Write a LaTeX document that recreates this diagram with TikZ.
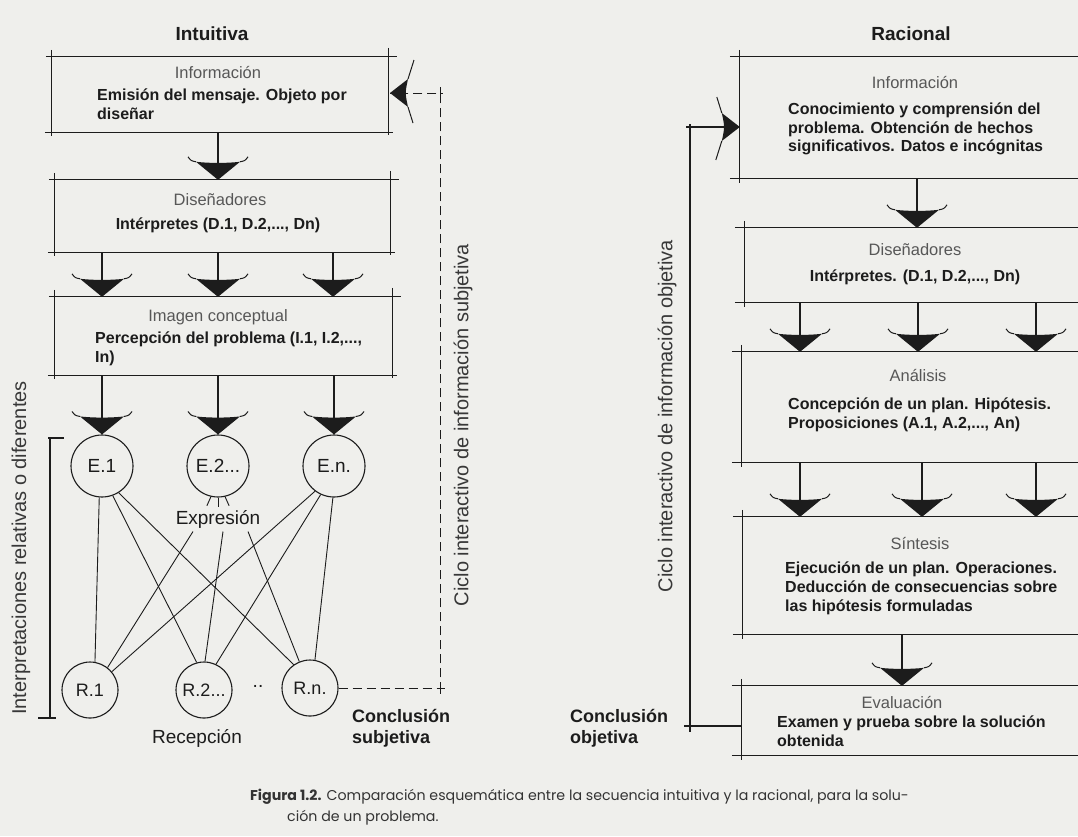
\documentclass[tikz,border=0pt]{standalone}
\usepackage{fontspec}
\setmainfont{Liberation Sans}
\newfontfamily\hv{Liberation Sans}
\newfontfamily\capfont{Poppins}
\usetikzlibrary{calc}
\definecolor{paper}{RGB}{239,239,236}
\definecolor{ink}{RGB}{28,28,28}
\newcommand\skbox[1]{%
  \draw[ln] ([xshift=-6pt]#1.north west) -- ([xshift=9pt]#1.north east);
  \draw[ln] ([xshift=-7pt]#1.south west) -- ([xshift=5pt]#1.south east);
  \draw[ln] ([yshift=7pt]#1.north west) -- ([yshift=-4pt]#1.south west);
  \draw[ln] ([yshift=9pt]#1.north east) -- ([yshift=-3pt]#1.south east);}
\newcommand\skboxr[1]{%
  \draw[ln] ([xshift=-10pt]#1.north west) -- (#1.north east);
  \draw[ln] ([xshift=-10pt]#1.south west) -- (#1.south east);
  \draw[ln] ([yshift=7pt]#1.north west) -- ([yshift=-5pt]#1.south west);}
\begin{document}
\begin{tikzpicture}[x=1pt,y=-1pt,
  ln/.style={line width=1.1pt, draw=ink},
  thinln/.style={line width=0.9pt, draw=ink},
  dsh/.style={line width=1pt, draw=ink, dash pattern=on 9pt off 5pt},
  frame/.style={rectangle, inner sep=0pt, draw=none},
  lbl/.style={font=\hv\fontsize{16.5}{19}\selectfont, text=black!66},
  bld/.style={font=\hv\bfseries\fontsize{16}{18.8}\selectfont, text=ink, align=left, inner sep=0pt},
  ttl/.style={font=\hv\bfseries\fontsize{19}{22}\selectfont, text=ink},
  big/.style={font=\hv\fontsize{19}{22}\selectfont, text=ink},
  conc/.style={font=\hv\bfseries\fontsize{18}{21}\selectfont, text=ink, align=left, inner sep=0pt},
  vert/.style={font=\hv\fontsize{20}{22}\selectfont, text=black!78, rotate=90},
  circ/.style={circle, draw=ink, line width=1.1pt, inner sep=0pt, text=ink},
  ecirc/.style={circ, minimum size=62pt, font=\hv\fontsize{19}{22}\selectfont},
  rcirc/.style={circ, minimum size=56pt, font=\hv\fontsize{18}{21}\selectfont},
  harrow/.pic={
    \fill[ink] (-22,-18) -- (0,0) -- (22,-18)
      .. controls (8,-16.5) and (-8,-16.5) .. (-22,-18) -- cycle;
    \draw[ink, line width=1pt] (-22,-18) .. controls (-27,-19) .. (-30,-23);
    \draw[ink, line width=1pt] (22,-18) .. controls (27,-19) .. (30,-23);
  },
  bigarrow/.pic={
    \fill[ink] (-14,-18) -- (0,0) -- (14,-18)
      .. controls (0,-15) .. (-14,-18) -- cycle;
    \draw[ink, line width=1pt] (-14,-18) -- (-33,-24);
    \draw[ink, line width=1pt] (14,-18) -- (30,-23);
  }]
\useasboundingbox (0,0) rectangle (1078,836);
\fill[paper] (0,0) rectangle (1078,836);

% ---------------- Intuitiva ----------------
\node[ttl] (tI) at (212,34) {Intuitiva};

\node[frame, minimum width=336pt, minimum height=75pt] (L1) at (220,94.5) {};
\skbox{L1}
\node[lbl] (L1h) at (218,73) {Información};
\node[bld, anchor=west] (L1t) at (97,104) {Emisión del mensaje. Objeto por\\diseñar};

\node[frame, minimum width=335pt, minimum height=72pt] (L2) at (222.5,216) {};
\skbox{L2}
\node[lbl] (L2h) at (220,200) {Diseñadores};
\node[bld] (L2t) at (218,225) {Intérpretes (D.1, D.2,..., Dn)};

\node[frame, minimum width=337pt, minimum height=78pt] (L3) at (223.5,336) {};
\skbox{L3}
\node[lbl] (L3h) at (218,317) {Imagen conceptual};
\node[bld, anchor=west] (L3t) at (95,349) {Percepción del problema (I.1, I.2,...,\\In)};

\coordinate (c1) at (102,0);
\coordinate (c2) at (218,0);
\coordinate (c3) at (333,0);

\draw[ln] (L1.south -| c2) -- (L2.north -| c2);
\pic at (L2.north -| c2) {harrow};
\foreach \c in {c1,c2,c3}{
  \draw[ln] (L2.south -| \c) -- (L3.north -| \c);
  \pic at (L3.north -| \c) {harrow};
}

\node[ecirc] (E1) at (102,466) {E.1};
\node[ecirc] (E2) at (218,466) {E.2...};
\node[ecirc] (En) at (334,466) {E.n.};
\foreach \e in {E1,E2,En}{
  \draw[ln] (L3.south -| \e) -- (\e.north);
  \pic at (\e.north) {harrow};
}

\node[big] (ex) at (218,519) {Expresión};
\draw[thinln] (E2.-103) -- ++(-4,9);
\draw[thinln] (E2.-90) -- ++(0,9);
\draw[thinln] (E2.-77) -- ++(4,9);

\node[rcirc] (R1) at (90,690) {R.1};
\node[rcirc] (R2) at (204,690) {R.2...};
\node[rcirc] (Rn) at (310,688) {R.n.};
\node[big] (dots) at (258,686) {..};

\draw[thinln] (E1.-95) -- (R1.80);
\draw[thinln] (E1.-70) -- (R2.105);
\draw[thinln] (E1.-58) -- (Rn.125);
\draw[thinln] ([xshift=-25pt]ex.south) -- (R1.52);
\draw[thinln] ([xshift=5pt]ex.south) -- (R2.88);
\draw[thinln] ([xshift=30pt]ex.south) -- (Rn.112);
\draw[thinln] (En.-127) -- (R1.40);
\draw[thinln] (En.-115) -- (R2.65);
\draw[thinln] (En.-92) -- (Rn.80);

\node[big] (recep) at (197,738) {Recepción};

% bracket
\coordinate (bt) at (50,438);
\coordinate (bb) at (50,718);
\draw[ln] (bt) -- (bb);
\draw[ln] ([xshift=-2pt]bt) -- ([xshift=14pt]bt);
\draw[ln] ([xshift=-12pt]bb) -- ([xshift=6pt]bb);
\node[vert] (interp) at (21,548) {Interpretaciones relativas o diferentes};

% dashed subjective loop
\coordinate (cs) at (440,688);
\coordinate (ai) at (390,93);
\draw[dsh] (Rn.east) -- (cs) -- (cs |- ai) -- (ai);
\draw[thinln] (cs) -- ++(0,6);
\draw[thinln] (cs) -- ++(5,0);
\draw[thinln] (cs |- ai) -- ++(0,-6);
\draw[thinln] (cs |- ai) -- ++(3,0);
\pic[rotate=-90] at (ai) {bigarrow};
\node[vert] (cicS) at (463,425) {Ciclo interactivo de información subjetiva};
\node[conc, anchor=west] (concS) at (352,728) {Conclusión\\subjetiva};

% ---------------- Racional ----------------
\node[ttl] (tR) at (911,34) {Racional};

\node[frame, minimum width=340pt, minimum height=121pt] (R1b) at (910,117.5) {};
\skboxr{R1b}
\node[lbl] (R1h) at (915,83) {Información};
\node[bld, anchor=west] (R1t) at (788,129) {Conocimiento y comprensión del\\problema. Obtención de hechos\\significativos. Datos e incógnitas};

\node[frame, minimum width=335pt, minimum height=74pt] (R2b) at (912.5,265) {};
\skboxr{R2b}
\node[lbl] (R2h) at (915,250) {Diseñadores};
\node[bld] (R2t) at (915,277) {Intérpretes. (D.1, D.2,..., Dn)};

\node[frame, minimum width=338pt, minimum height=110pt] (R3b) at (911,407) {};
\skboxr{R3b}
\node[lbl] (R3h) at (918,375) {Análisis};
\node[bld, anchor=west] (R3t) at (788,415) {Concepción de un plan. Hipótesis.\\Proposiciones (A.1, A.2,..., An)};

\node[frame, minimum width=337pt, minimum height=117pt] (R4b) at (911.5,575.5) {};
\skboxr{R4b}
\node[lbl] (R4h) at (920,543) {Síntesis};
\node[bld, anchor=west] (R4t) at (785,588) {Ejecución de un plan. Operaciones.\\Deducción de consecuencias sobre\\las hipótesis formuladas};

\node[frame, minimum width=338pt, minimum height=69pt] (R5b) at (911,720.5) {};
\skboxr{R5b}
\node[lbl] (R5h) at (902,702) {Evaluación};
\node[bld, anchor=west] (R5t) at (777,731) {Examen y prueba sobre la solución\\obtenida};

\coordinate (k1) at (800,0);
\coordinate (k2) at (918,0);
\coordinate (k3) at (1036,0);
\coordinate (k4) at (922,0);
\coordinate (m1) at (917,0);
\coordinate (m2) at (902,0);

\draw[ln] (R1b.south -| m1) -- (R2b.north -| m1);
\pic at (R2b.north -| m1) {harrow};
\foreach \c in {k1,k2,k3}{
  \draw[ln] (R2b.south -| \c) -- (R3b.north -| \c);
  \pic at (R3b.north -| \c) {harrow};
}
\foreach \c in {k1,k4,k3}{
  \draw[ln] (R3b.south -| \c) -- (R4b.north -| \c);
  \pic at (R4b.north -| \c) {harrow};
}
\draw[ln] (R4b.south -| m2) -- (R5b.north -| m2);
\pic at (R5b.north -| m2) {harrow};

% objective loop
\coordinate (vt) at (690,127);
\coordinate (vb) at (690,726);
\coordinate (ar) at (R1b.west |- vt);
\draw[ln] ([yshift=3pt]vt) -- ([yshift=-6pt]vb);
\draw[ln] ([xshift=-4pt]vt) -- (ar);
\draw[ln] ([xshift=-6pt]vb) -- (vb -| R5b.west);
\pic[rotate=90] at (ar) {bigarrow};
\node[vert] (cicO) at (667,416) {Ciclo interactivo de información objetiva};
\node[conc, anchor=west] (concO) at (570,728) {Conclusión\\objetiva};

% caption
\node[anchor=base west, font=\capfont\fontsize{14.2}{17}\selectfont, text=black!80, inner sep=0pt] (cap1) at (250,800) {\textbf{Figura 1.2.} Comparación esquemática entre la secuencia intuitiva y la racional, para la solu-};
\node[anchor=base west, font=\capfont\fontsize{14.2}{17}\selectfont, text=black!80, inner sep=0pt] (cap2) at (287,821) {ción de un problema.};
\end{tikzpicture}
\end{document}
